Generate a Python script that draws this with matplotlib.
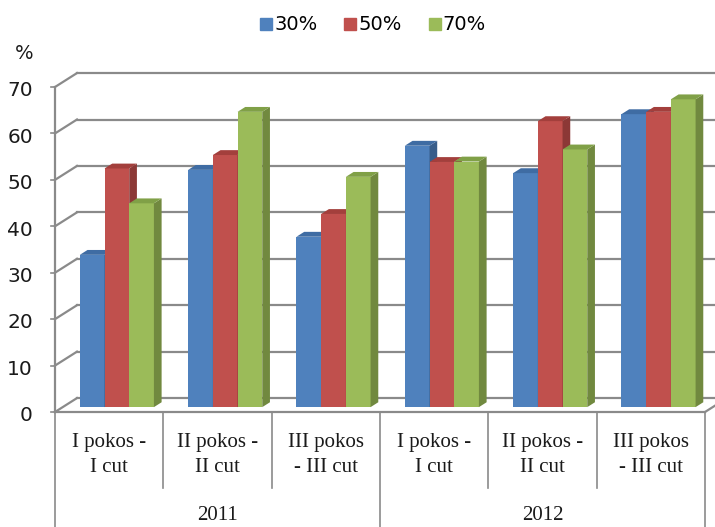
import matplotlib
matplotlib.use("Agg")
import matplotlib.pyplot as plt
from matplotlib.patches import Polygon
from matplotlib.lines import Line2D

# data
cuts = ["I pokos -\nI cut", "II pokos -\nII cut", "III pokos\n- III cut",
        "I pokos -\nI cut", "II pokos -\nII cut", "III pokos\n- III cut"]
years = ["2011", "2012"]
series = ["30%", "50%", "70%"]
v30 = [32.8, 51.1, 36.7, 56.3, 50.4, 63.1]
v50 = [51.4, 54.3, 41.6, 52.8, 61.6, 63.6]
v70 = [43.9, 63.6, 49.6, 52.9, 55.5, 66.3]
values = [v30, v50, v70]

face = ["#4F81BD", "#C0504D", "#9BBB59"]
side = ["#385D8A", "#8C3836", "#71893F"]
top = ["#3F6CA3", "#A33F3C", "#80A047"]
grid_c = "#8a8a8a"

fig = plt.figure(figsize=(7.15, 5.27), dpi=100)
ax = fig.add_axes([55/715, 115/527, 650/715, 325/527])
ax.set_xlim(0, 6)
ax.set_ylim(0, 70)
ax.axis("off")

# depth of the 3d box in data units
ddx, ddy = 0.203, 3.0
f = 0.35      # where the bar front sits in the depth
b = 0.35      # bar depth
w = 0.228     # bar width

# back wall and left wall gridlines
for v in range(0, 80, 10):
    ax.plot([ddx, 6 + ddx], [v + ddy, v + ddy], color=grid_c, lw=1.6,
            clip_on=False, zorder=1)
    ax.plot([0, ddx], [v, v + ddy], color=grid_c, lw=1.6, clip_on=False, zorder=1)
    ax.plot([-0.035, 0], [v, v], color=grid_c, lw=1.2, clip_on=False, zorder=1)
    ax.text(-0.205, v - 0.8, str(v), ha="right", va="center", fontsize=14.5,
            color="#1a1a1a", family="DejaVu Sans")
ax.plot([0, 0], [0, 70], color=grid_c, lw=1.6, clip_on=False, zorder=1)
ax.plot([0, 6], [0, 0], color=grid_c, lw=1.6, clip_on=False, zorder=1)
ax.plot([6, 6 + ddx], [0, ddy], color=grid_c, lw=1.6, clip_on=False, zorder=1)

# bars
z = 2
for i in range(len(cuts)):
    for k in range(3):
        v = values[k][i]
        x0 = i + 0.5 + (k - 1.5) * w + f * ddx
        y0 = f * ddy
        ax.bar(x0, v, w, bottom=y0, align="edge", color=face[k], zorder=z,
               linewidth=0)
        yt = y0 + v
        ax.add_patch(Polygon([(x0 + w, y0), (x0 + w, yt),
                              (x0 + w + b * ddx, yt + b * ddy),
                              (x0 + w + b * ddx, y0 + b * ddy)],
                             closed=True, color=side[k], lw=0, zorder=z))
        ax.add_patch(Polygon([(x0, yt), (x0 + w, yt),
                              (x0 + w + b * ddx, yt + b * ddy),
                              (x0 + b * ddx, yt + b * ddy)],
                             closed=True, color=top[k], lw=0, zorder=z))
        z += 1

# category table
for i in range(7):
    low = -24.8 if i in (0, 3, 6) else -16.4
    ax.plot([i, i], [0, low], color=grid_c, lw=1.2, clip_on=False)
for i, lab in enumerate(cuts):
    ax.text(i + 0.5, -9.3, lab, ha="center", va="center", fontsize=15,
            family="Liberation Serif", linespacing=1.45, color="#1a1a1a")
for j, yr in enumerate(years):
    ax.text(1.5 + 3 * j, -22.3, yr, ha="center", va="center", fontsize=15,
            family="Liberation Serif", color="#1a1a1a")

ax.text(-0.285, 77.2, "%", ha="center", va="center", fontsize=14,
        family="DejaVu Sans", color="#1a1a1a", clip_on=False)

handles = [Line2D([], [], marker="s", ls="", color=c, markersize=9) for c in face]
fig.legend(handles, series, loc="center", bbox_to_anchor=(372/715, 1 - 25/527),
           ncol=3, frameon=False, handletextpad=0.0, columnspacing=1.3,
           handlelength=0.8, prop={"family": "DejaVu Sans", "size": 14})

fig.savefig("out.png", dpi=100)
